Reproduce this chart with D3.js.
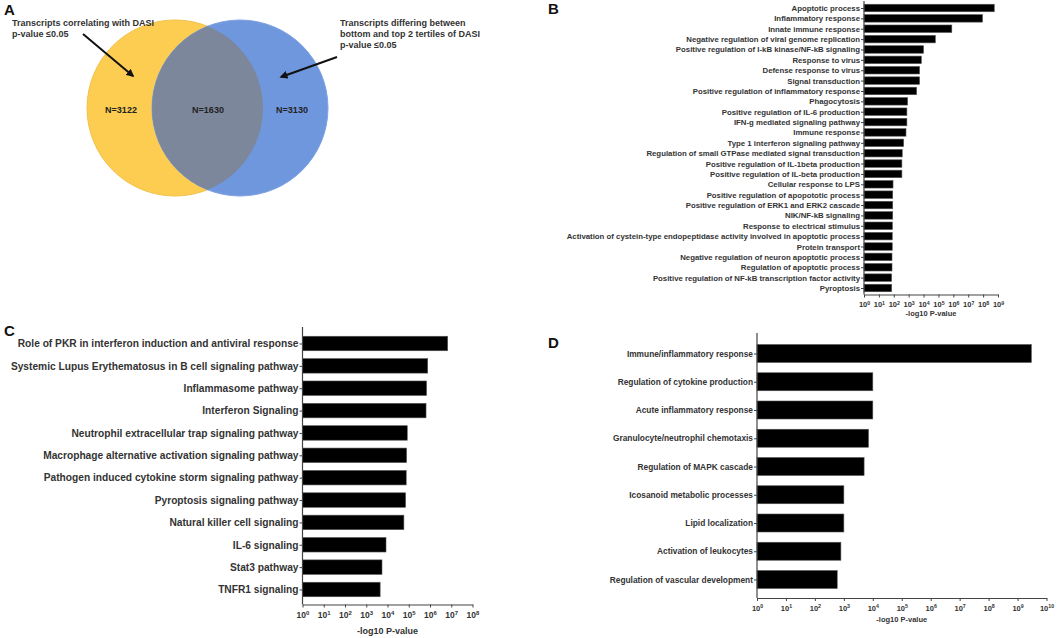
<!DOCTYPE html>
<html>
<head>
<meta charset="utf-8">
<script src="https://cdn.jsdelivr.net/npm/d3@7"></script>
<style>
  body { margin: 0; background: #fff; }
  svg { font-family: "Liberation Sans", Arial, sans-serif; font-weight: bold; }
</style>
</head>
<body>
<svg id="chart" width="1058" height="638"></svg>
<script>
// Panel A: Venn counts
const vennCounts = ["N=3122", "N=1630", "N=3130"];
const vennLeftNote = ["Transcripts correlating with DASI", "p-value \u22640.05"];
const vennRightNote = ["Transcripts differing between", "bottom and top 2 tertiles of DASI", "p-value \u22640.05"];

// Panel B: GO biological processes
const bLabels = [
  "Apoptotic process", "Inflammatory response", "Innate immune response",
  "Negative regulation of viral genome replication", "Positive regulation of I-kB kinase/NF-kB signaling",
  "Response to virus", "Defense response to virus", "Signal transduction",
  "Positive regulation of inflammatory response", "Phagocytosis", "Positive regulation of IL-6 production",
  "IFN-g mediated signaling pathway", "Immune response", "Type 1 interferon signaling pathway",
  "Regulation of small GTPase mediated signal transduction", "Positive regulation of IL-1beta production",
  "Positive regulation of IL-beta production", "Cellular response to LPS",
  "Positive regulation of apopototic process", "Positive regulation of ERK1 and ERK2 cascade",
  "NIK/NF-kB signaling", "Response to electrical stimulus",
  "Activation of cystein-type endopeptidase activity involved in apoptotic process", "Protein transport",
  "Negative regulation of neuron apoptotic process", "Regulation of apoptotic process",
  "Positive regulation of NF-kB transcription factor activity", "Pyroptosis"
];
const bValues = [5.6e8, 9.1e7, 7.9e5, 6.2e4, 1.0e4, 7.1e3, 5.4e3, 5.4e3, 3.4e3, 850, 760, 760, 660, 460,
  370, 350, 350, 89, 85, 85, 85, 81, 79, 79, 76, 76, 72, 72];
const bTicks = [0, 1, 2, 3, 4, 5, 6, 7, 8, 9];

// Panel C: canonical pathways
const cLabels = [
  "Role of PKR in interferon induction and antiviral response",
  "Systemic Lupus Erythematosus in B cell signaling pathway",
  "Inflammasome pathway", "Interferon Signaling",
  "Neutrophil extracellular trap signaling pathway",
  "Macrophage alternative activation signaling pathway",
  "Pathogen induced cytokine storm signaling pathway",
  "Pyroptosis signaling pathway", "Natural killer cell signaling",
  "IL-6 signaling", "Stat3 pathway", "TNFR1 signaling"
];
const cValues = [6.8e6, 7.8e5, 6.9e5, 6.5e5, 8.5e4, 7.9e4, 7.6e4, 7.1e4, 5.9e4, 8.5e3, 5.5e3, 4.5e3];
const cTicks = [0, 1, 2, 3, 4, 5, 6, 7, 8];

// Panel D: enriched processes
const dLabels = [
  "Immune/inflammatory response", "Regulation of cytokine production", "Acute inflammatory response",
  "Granulocyte/neutrophil chemotaxis", "Regulation of MAPK cascade", "Icosanoid metabolic processes",
  "Lipid localization", "Activation of leukocytes", "Regulation of vascular development"
];
const dValues = [3.0e9, 1.0e4, 1.0e4, 7.1e3, 5.0e3, 1.0e3, 1.0e3, 790, 590];
const dTicks = [0, 1, 2, 3, 4, 5, 6, 7, 8, 9, 10];

const svg = d3.select("#chart");
const textColor = "#333";

// panel letters
[["A", 4, 15], ["B", 548, 14], ["C", 4, 336], ["D", 548, 348]].forEach(([t, x, y]) => {
  svg.append("text").attr("x", x).attr("y", y).attr("font-size", 15).attr("fill", "#111").text(t);
});

// ---- Venn diagram ----
function drawVenn() {
  const g = svg.append("g");
  const r = 88, cy = 108, cxL = 175, cxR = 240;
  const defs = svg.append("defs");
  defs.append("clipPath").attr("id", "clipL").append("circle").attr("cx", cxL).attr("cy", cy).attr("r", r);
  defs.append("marker").attr("id", "arrow").attr("viewBox", "0 0 10 10").attr("refX", 8).attr("refY", 5)
    .attr("markerWidth", 4).attr("markerHeight", 4).attr("orient", "auto")
    .append("path").attr("d", "M0,0L10,5L0,10z").attr("fill", "#111");

  g.append("circle").attr("cx", cxL).attr("cy", cy).attr("r", r).attr("fill", "#fdcd52")
    .attr("stroke", "#f3c14a").attr("stroke-width", 1);
  g.append("circle").attr("cx", cxR).attr("cy", cy).attr("r", r).attr("fill", "#6f97de")
    .attr("stroke", "#7ea2e2").attr("stroke-width", 1);
  g.append("circle").attr("cx", cxR).attr("cy", cy).attr("r", r).attr("fill", "#7c879c")
    .attr("clip-path", "url(#clipL)");

  const nx = [121, 208, 292];
  vennCounts.forEach((t, i) => {
    g.append("text").attr("x", nx[i]).attr("y", 113).attr("text-anchor", "middle")
      .attr("font-size", 9).attr("fill", "#222").text(t);
  });

  vennLeftNote.forEach((t, i) => {
    g.append("text").attr("x", 12).attr("y", 26 + i * 11).attr("font-size", 9).attr("fill", textColor).text(t);
  });
  vennRightNote.forEach((t, i) => {
    g.append("text").attr("x", 340).attr("y", 26 + i * 11).attr("font-size", 9).attr("fill", textColor).text(t);
  });

  g.append("line").attr("x1", 83).attr("y1", 34).attr("x2", 133).attr("y2", 76)
    .attr("stroke", "#111").attr("stroke-width", 2).attr("marker-end", "url(#arrow)");
  g.append("line").attr("x1", 337).attr("y1", 57).attr("x2", 281).attr("y2", 77)
    .attr("stroke", "#111").attr("stroke-width", 2).attr("marker-end", "url(#arrow)");
}

// ---- horizontal log bar chart ----
function drawBars(cfg) {
  const g = svg.append("g");
  const x = d3.scaleLog().domain([1, Math.pow(10, cfg.ticks[cfg.ticks.length - 1])]).range([cfg.x0, cfg.x1]);
  const y = d3.scalePoint().domain(cfg.labels).range([cfg.yFirst, cfg.yLast]);

  g.selectAll("rect").data(cfg.values).enter().append("rect")
    .attr("x", x(1))
    .attr("y", (d, i) => y(cfg.labels[i]) - cfg.barH / 2)
    .attr("width", d => x(d) - x(1))
    .attr("height", cfg.barH)
    .attr("fill", "#000")
    .attr("stroke", "#555")
    .attr("stroke-width", 0.6);

  const yAxis = g.append("g").attr("transform", `translate(${cfg.x0},0)`)
    .call(d3.axisLeft(y).tickSize(3).tickPadding(1));
  yAxis.select(".domain").remove();
  yAxis.selectAll("line").attr("stroke", "#444");
  yAxis.selectAll("text").attr("font-size", cfg.labelSize).attr("fill", textColor)
    .attr("font-family", "Liberation Sans, Arial, sans-serif");

  g.append("line").attr("x1", cfg.x0).attr("x2", cfg.x0).attr("y1", cfg.axisTop).attr("y2", cfg.axisY)
    .attr("stroke", "#444").attr("stroke-width", 1.2);

  const xAxis = g.append("g").attr("transform", `translate(0,${cfg.axisY})`)
    .call(d3.axisBottom(x).tickValues(cfg.ticks.map(e => Math.pow(10, e))).tickSize(3).tickSizeOuter(0)
      .tickFormat(() => ""));
  xAxis.select(".domain").attr("stroke", "#444").attr("stroke-width", 1.2);
  xAxis.selectAll("line").attr("stroke", "#444");
  xAxis.selectAll("text").each(function (d) {
    const t = d3.select(this).attr("font-size", cfg.tickSize).attr("fill", textColor)
      .attr("font-family", "Liberation Sans, Arial, sans-serif").attr("dy", "0.9em");
    t.append("tspan").text("10");
    t.append("tspan").attr("dy", "-0.45em").attr("font-size", cfg.tickSize * 0.7).text(Math.round(Math.log10(d)));
  });

  g.append("text").attr("x", (cfg.x0 + cfg.x1) / 2).attr("y", cfg.titleY).attr("text-anchor", "middle")
    .attr("font-size", cfg.titleSize).attr("fill", textColor).text("-log10 P-value");
}

drawVenn();

drawBars({
  labels: bLabels, values: bValues, ticks: bTicks,
  x0: 864, x1: 998, yFirst: 8, yLast: 288, barH: 7.5, axisTop: 1, axisY: 294.5,
  labelSize: 7.8, tickSize: 7.5, titleY: 316, titleSize: 7.5
});

drawBars({
  labels: cLabels, values: cValues, ticks: cTicks,
  x0: 302.5, x1: 472.5, yFirst: 343.5, yLast: 589.5, barH: 14.5, axisTop: 327, axisY: 604.5,
  labelSize: 10.2, tickSize: 8.5, titleY: 634, titleSize: 9
});

drawBars({
  labels: dLabels, values: dValues, ticks: dTicks,
  x0: 757, x1: 1046.5, yFirst: 353.5, yLast: 579.5, barH: 18, axisTop: 333, axisY: 598,
  labelSize: 8.35, tickSize: 7.5, titleY: 622, titleSize: 7.5
});
</script>
</body>
</html>
